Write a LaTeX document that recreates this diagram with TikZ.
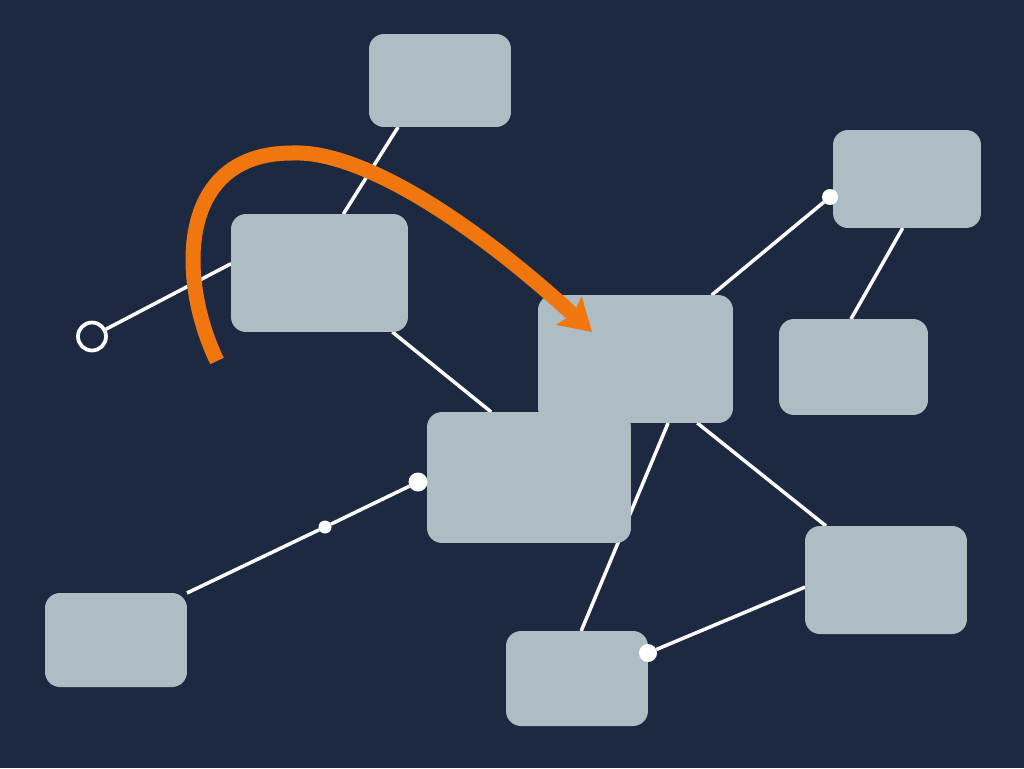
\documentclass[tikz,border=0pt]{standalone}
\usepackage{tikz}
\usetikzlibrary{arrows.meta}
\definecolor{navy}{HTML}{1C2940}
\definecolor{boxgray}{HTML}{AEBCC4}
\definecolor{flame}{HTML}{F2760E}
\pgfdeclarelayer{bg}
\pgfdeclarelayer{edges}
\pgfsetlayers{bg,edges,main}
\tikzset{
  card/.style={fill=boxgray, rounded corners=0.3cm, inner sep=0pt, outer sep=0pt},
  pin/.style={circle, fill=white, inner sep=0pt, outer sep=0pt},
  link/.style={draw=white, line width=0.07cm},
  flow/.style={draw=flame, line width=0.3cm, -{Stealth[length=0.62cm, width=0.74cm, inset=0.1cm]}}
}
\begin{document}
\begin{tikzpicture}[x=0.02cm, y=-0.02cm]
\begin{pgfonlayer}{bg}
\fill[navy] (0,0) rectangle (1024,768);
\end{pgfonlayer}
% boxes
\node[card, minimum width=2.84cm, minimum height=1.86cm] (top) at (440,80.5) {};
\node[card, minimum width=3.54cm, minimum height=2.36cm] (lmid) at (319.5,273) {};
\node[card, minimum width=3.9cm, minimum height=2.56cm] (ctr) at (635.5,359) {};
\node[card, minimum width=4.08cm, minimum height=2.62cm] (lctr) at (529,477.5) {};
\node[card, minimum width=2.96cm, minimum height=1.96cm] (rtop) at (907,179) {};
\node[card, minimum width=2.98cm, minimum height=1.92cm] (rmid) at (853.5,367) {};
\node[card, minimum width=3.24cm, minimum height=2.16cm] (rlow) at (886,580) {};
\node[card, minimum width=2.84cm, minimum height=1.9cm] (bmid) at (577,678.5) {};
\node[card, minimum width=2.84cm, minimum height=1.88cm] (blft) at (116,640) {};
% end points
\node[circle, draw=white, fill=navy, line width=0.075cm, minimum size=0.56cm, inner sep=0pt] (ocirc) at (92,336.5) {};
\node[pin, minimum size=0.32cm] (rtdot) at (830,197) {};
\node[pin, minimum size=0.38cm] (lcdot) at (418,482) {};
\node[pin, minimum size=0.26cm] (smdot) at (325,527) {};
\node[pin, minimum size=0.36cm] (bmdot) at (648,653) {};
% connectors
\begin{pgfonlayer}{edges}
\draw[link] (top.-132) -- (lmid.68);
\draw[link] (lmid.174) -- (ocirc);
\draw[link] (lmid.-39) -- (lctr.120);
\draw[link] (ctr.40) -- (rtdot);
\draw[link] (rtop.-95) -- (rmid.93);
\draw[link] (ctr.-63) -- (bmid.85);
\draw[link] (ctr.-46) -- (rlow.138);
\draw[link] (rlow.185) -- (bmdot);
\draw[link] (blft.north east) -- (smdot) -- (lcdot);
\end{pgfonlayer}
% orange arrow
\coordinate (arrstart) at (217,361);
\coordinate (arrtop) at (292,153);
\coordinate (arrtip) at (592,332);
\draw[flow] (arrstart) .. controls (178,280) and (176,153) .. (arrtop)
  .. controls (360,150) and (470,220) .. (arrtip);
\end{tikzpicture}
\end{document}
